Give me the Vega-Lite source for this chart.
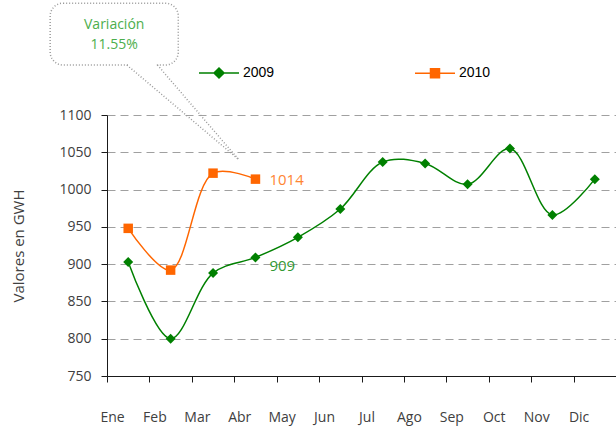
{
  "$schema": "https://vega.github.io/schema/vega-lite/v6.json",
  "autosize": "none",
  "width": 509,
  "height": 261,
  "padding": {"left": 107, "top": 115, "right": 0, "bottom": 51},
  "config": {
    "font": "Open Sans",
    "view": {"stroke": null}
  },
  "datasets": {
    "consumo": [
      {"mes": 1, "serie": "2009", "valor": 903},
      {"mes": 2, "serie": "2009", "valor": 800},
      {"mes": 3, "serie": "2009", "valor": 888},
      {"mes": 4, "serie": "2009", "valor": 909},
      {"mes": 5, "serie": "2009", "valor": 936},
      {"mes": 6, "serie": "2009", "valor": 974},
      {"mes": 7, "serie": "2009", "valor": 1037},
      {"mes": 8, "serie": "2009", "valor": 1035},
      {"mes": 9, "serie": "2009", "valor": 1007},
      {"mes": 10, "serie": "2009", "valor": 1055},
      {"mes": 11, "serie": "2009", "valor": 966},
      {"mes": 12, "serie": "2009", "valor": 1014},
      {"mes": 1, "serie": "2010", "valor": 948},
      {"mes": 2, "serie": "2010", "valor": 892},
      {"mes": 3, "serie": "2010", "valor": 1022},
      {"mes": 4, "serie": "2010", "valor": 1014}
    ],
    "nota": [{"texto": "Variación 11.55%"}]
  },
  "data": {"name": "consumo"},
  "layer": [
    {
      "mark": {"type": "line", "interpolate": "catmull-rom", "strokeWidth": 1.5},
      "encoding": {
        "x": {
          "field": "mes",
          "type": "quantitative",
          "scale": {"domain": [0.5, 12.5], "nice": false, "zero": false},
          "axis": {
            "title": null,
            "values": [0.5, 1.5, 2.5, 3.5, 4.5, 5.5, 6.5, 7.5, 8.5, 9.5, 10.5, 11.5],
            "tickCount": 20,
            "labelExpr": "['Ene','Feb','Mar','Abr','May','Jun','Jul','Ago','Sep','Oct','Nov','Dic'][floor(datum.value)]",
            "labelAlign": "center",
            "labelOffset": 5,
            "labelPadding": 28,
            "labelFontSize": 14,
            "labelColor": "#404040",
            "labelFlush": false,
            "labelOverlap": false,
            "domainColor": "#1a1a1a",
            "tickColor": "#1a1a1a",
            "tickSize": 6,
            "grid": false
          }
        },
        "y": {
          "field": "valor",
          "type": "quantitative",
          "scale": {"domain": [750, 1100], "nice": false, "zero": false},
          "axis": {
            "title": "Valores en GWH",
            "titleFontSize": 15,
            "titleFontWeight": "normal",
            "titleColor": "#404040",
            "titlePadding": 32,
            "values": [750, 800, 850, 900, 950, 1000, 1050, 1100],
            "tickCount": 20,
            "format": "d",
            "labelOverlap": false,
            "labelFontSize": 14,
            "labelColor": "#404040",
            "labelPadding": 10,
            "domainColor": "#1a1a1a",
            "tickColor": "#1a1a1a",
            "tickSize": 6,
            "grid": true,
            "gridColor": "#a0a0a0",
            "gridDash": [8, 5]
          }
        },
        "color": {
          "field": "serie",
          "type": "nominal",
          "scale": {"domain": ["2009", "2010"], "range": ["#008000", "#ff6600"]},
          "legend": null
        }
      }
    },
    {
      "mark": {"type": "point", "filled": true, "opacity": 1},
      "encoding": {
        "x": {"field": "mes", "type": "quantitative"},
        "y": {"field": "valor", "type": "quantitative"},
        "color": {"field": "serie", "type": "nominal", "legend": null},
        "shape": {
          "field": "serie",
          "type": "nominal",
          "scale": {"domain": ["2009", "2010"], "range": ["diamond", "square"]},
          "legend": null
        },
        "size": {
          "field": "serie",
          "type": "nominal",
          "scale": {"domain": ["2009", "2010"], "range": [100, 90]},
          "legend": null
        }
      }
    },
    {
      "transform": [{"filter": "datum.mes == 4 && datum.serie == '2009'"}],
      "mark": {"type": "text", "align": "left", "baseline": "middle", "dx": 14, "dy": 9, "fontSize": 15, "color": "#339933"},
      "encoding": {
        "x": {"field": "mes", "type": "quantitative"},
        "y": {"field": "valor", "type": "quantitative"},
        "text": {"field": "valor", "type": "quantitative"}
      }
    },
    {
      "transform": [{"filter": "datum.mes == 4 && datum.serie == '2010'"}],
      "mark": {"type": "text", "align": "left", "baseline": "middle", "dx": 14, "dy": 1, "fontSize": 15, "color": "#ff8533"},
      "encoding": {
        "x": {"field": "mes", "type": "quantitative"},
        "y": {"field": "valor", "type": "quantitative"},
        "text": {"field": "valor", "type": "quantitative"}
      }
    },
    {
      "data": {"name": "nota"},
      "mark": {"type": "rect", "fill": "white", "stroke": "#9a9a9a", "strokeWidth": 1.5, "strokeDash": [1, 2], "cornerRadius": 13, "clip": false},
      "encoding": {
        "x": {"datum": -0.84, "type": "quantitative"},
        "x2": {"datum": 2.18},
        "y": {"datum": 1250, "type": "quantitative"},
        "y2": {"datum": 1167}
      }
    },
    {
      "data": {"name": "nota"},
      "mark": {"type": "rule", "stroke": "#9a9a9a", "strokeWidth": 1.5, "strokeDash": [1, 2], "clip": false},
      "encoding": {
        "x": {"datum": 0.97, "type": "quantitative"},
        "x2": {"datum": 3.6},
        "y": {"datum": 1167, "type": "quantitative"},
        "y2": {"datum": 1040.5}
      }
    },
    {
      "data": {"name": "nota"},
      "mark": {"type": "rule", "stroke": "#9a9a9a", "strokeWidth": 1.5, "strokeDash": [1, 2], "clip": false},
      "encoding": {
        "x": {"datum": 1.69, "type": "quantitative"},
        "x2": {"datum": 3.6},
        "y": {"datum": 1167, "type": "quantitative"},
        "y2": {"datum": 1040.5}
      }
    },
    {
      "data": {"name": "nota"},
      "mark": {"type": "rule", "stroke": "white", "strokeWidth": 3, "clip": false},
      "encoding": {
        "x": {"datum": 1.02, "type": "quantitative"},
        "x2": {"datum": 1.64},
        "y": {"datum": 1167, "type": "quantitative"}
      }
    },
    {
      "data": {"name": "nota"},
      "mark": {"type": "text", "text": ["Variación", "11.55%"], "fontSize": 14, "fontWeight": "normal", "lineHeight": 20, "fill": "#4cae4c", "align": "center", "baseline": "middle", "clip": false},
      "encoding": {
        "x": {"datum": 0.67, "type": "quantitative"},
        "y": {"datum": 1221, "type": "quantitative"}
      }
    },
    {
      "data": {"values": []},
      "mark": {"type": "point", "filled": true, "strokeWidth": 1.5, "opacity": 1},
      "encoding": {
        "x": {"field": "mes", "type": "quantitative"},
        "y": {"field": "valor", "type": "quantitative"},
        "fill": {
          "field": "serie",
          "type": "nominal",
          "scale": {"domain": ["2009", "2010"], "range": ["#008000", "#ff6600"]},
          "legend": {
            "title": null,
            "orient": "none",
            "direction": "horizontal",
            "legendX": 101,
            "legendY": -53,
            "padding": 0,
            "columnPadding": 137,
            "symbolSize": 400,
            "symbolStrokeWidth": 1.5,
            "symbolOpacity": 1,
            "labelOffset": 13,
            "labelFont": "Liberation Sans",
            "labelFontSize": 14,
            "labelColor": "#000000"
          }
        },
        "stroke": {
          "field": "serie",
          "type": "nominal",
          "scale": {"domain": ["2009", "2010"], "range": ["#008000", "#ff6600"]},
          "legend": {
            "title": null,
            "orient": "none",
            "direction": "horizontal",
            "legendX": 101,
            "legendY": -53,
            "padding": 0,
            "columnPadding": 137,
            "symbolSize": 400,
            "symbolStrokeWidth": 1.5,
            "symbolOpacity": 1,
            "labelOffset": 13,
            "labelFont": "Liberation Sans",
            "labelFontSize": 14,
            "labelColor": "#000000"
          }
        },
        "shape": {
          "field": "serie",
          "type": "nominal",
          "scale": {"domain": ["2009", "2010"], "range": ["M-2,0H2M0,-0.5L0.5,0L0,0.5L-0.5,0Z", "M-2,0H2M-0.45,-0.45H0.45V0.45H-0.45Z"]},
          "legend": {
            "title": null,
            "orient": "none",
            "direction": "horizontal",
            "legendX": 101,
            "legendY": -53,
            "padding": 0,
            "columnPadding": 137,
            "symbolSize": 400,
            "symbolStrokeWidth": 1.5,
            "symbolOpacity": 1,
            "labelOffset": 13,
            "labelFont": "Liberation Sans",
            "labelFontSize": 14,
            "labelColor": "#000000"
          }
        }
      }
    }
  ],
  "resolve": {"scale": {"shape": "independent", "fill": "independent", "stroke": "independent", "size": "independent"}}
}
